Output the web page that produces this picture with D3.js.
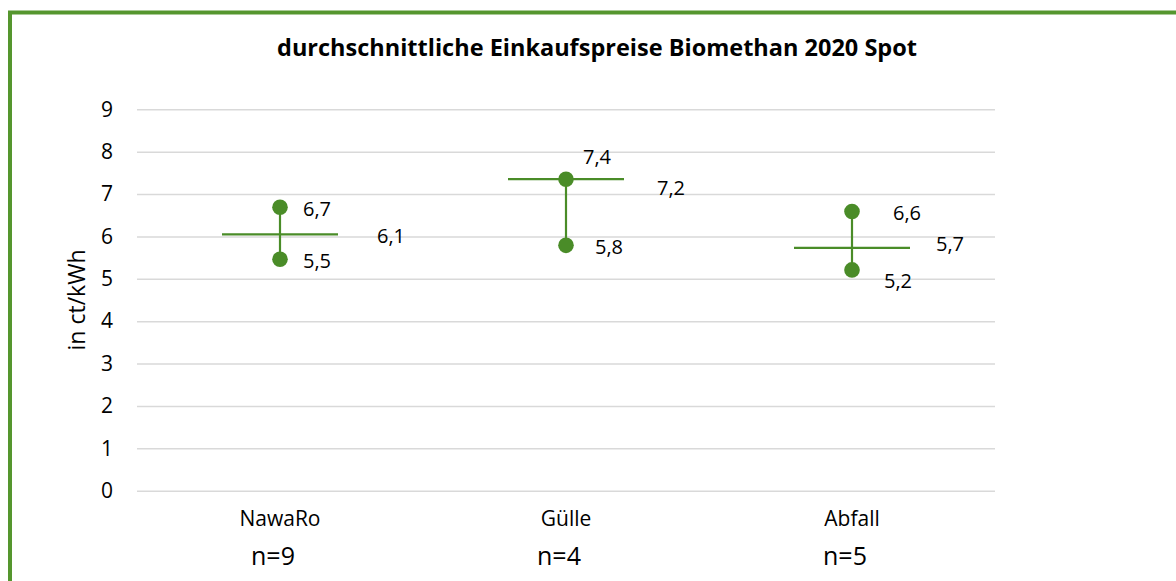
<!DOCTYPE html>
<html>
<head>
<meta charset="utf-8">
<script src="https://cdn.jsdelivr.net/npm/d3@7"></script>
<style>
  html, body { margin: 0; padding: 0; background: #fff; }
  svg { display: block; font-family: "Open Sans", Lato, sans-serif; }
</style>
</head>
<body>
<div id="chart"></div>
<script>
// values
var categories = ['NawaRo', 'Gülle', 'Abfall'];
var sampleSizes = ['n=9', 'n=4', 'n=5'];
var maxValues = [6.69, 7.35, 6.59];
var minValues = [5.46, 5.79, 5.21];
var avgValues = [6.05, 7.35, 5.73];
var maxLabels = ['6,7', '7,4', '6,6'];
var minLabels = ['5,5', '5,8', '5,2'];
var avgLabels = ['6,1', '7,2', '5,7'];
var yTickValues = [0, 1, 2, 3, 4, 5, 6, 7, 8, 9];

// label offsets (px) relative to the category centre, as placed in the original
var maxLabelOffset = [{ dx: 23, dy: 2 }, { dx: 17, dy: -22 }, { dx: 41, dy: 2 }];
var minLabelOffset = [{ dx: 23, dy: 2 }, { dx: 29, dy: 2 }, { dx: 32, dy: 11 }];
var avgLabelOffset = [{ dx: 97, dy: 2 }, { dx: 91, dy: 9 }, { dx: 84, dy: -4 }];

var W = 1176, H = 581;
var margin = { top: 109.3, right: 181, bottom: 90.3, left: 137 };
var width = W - margin.left - margin.right;
var height = H - margin.top - margin.bottom;
var green = '#4a8c28';
var font = '"Open Sans", Lato, sans-serif';

var svg = d3.select('#chart').append('svg')
    .attr('width', W)
    .attr('height', H);

// frame
svg.append('rect')
    .attr('x', 10).attr('y', 12.5)
    .attr('width', W + 20).attr('height', H + 20)
    .attr('fill', 'none')
    .attr('stroke', '#55962e')
    .attr('stroke-width', 4);

svg.append('text')
    .text('durchschnittliche Einkaufspreise Biomethan 2020 Spot')
    .attr('x', 597).attr('y', 48)
    .attr('dy', '0.35em')
    .attr('font-size', '23.5px')
    .attr('font-weight', 'bold')
    .style('text-anchor', 'middle');

var g = svg.append('g')
    .attr('transform', 'translate(' + margin.left + ', ' + margin.top + ')');

var x = d3.scaleBand().domain(categories).range([0, width]);
var y = d3.scaleLinear().domain([0, 9]).range([height, 0]);

var yAxis = g.append('g')
    .attr('class', 'grid')
    .call(d3.axisLeft(y).tickValues(yTickValues).tickSize(-width).tickPadding(24).tickFormat(d3.format('d')));
yAxis.select('.domain').remove();
yAxis.selectAll('line').attr('stroke', '#d9d9d9').attr('stroke-width', 1.5);
yAxis.selectAll('text')
    .attr('font-size', '21px')
    .attr('font-family', font)
    .attr('fill', '#000');

g.append('text')
    .text('in ct/kWh')
    .attr('transform', 'rotate(-90)')
    .attr('x', -(300 - margin.top))
    .attr('y', 77 - margin.left)
    .attr('dy', '0.35em')
    .attr('font-size', '23px')
    .style('text-anchor', 'middle');

var xAxis = g.append('g')
    .attr('transform', 'translate(0, ' + height + ')')
    .call(d3.axisBottom(x).tickSize(0).tickPadding(20));
xAxis.select('.domain').remove();
xAxis.selectAll('text')
    .attr('font-size', '21px')
    .attr('font-family', font)
    .attr('fill', '#000');

g.selectAll('.n-label')
    .data(categories)
    .enter().append('text')
    .attr('class', 'n-label')
    .text(function (d, i) { return sampleSizes[i]; })
    .attr('x', function (d) { return x(d) + x.bandwidth() / 2 - 7; })
    .attr('y', height + 66)
    .attr('dy', '0.35em')
    .attr('font-size', '25px')
    .style('text-anchor', 'middle');

var cx = function (d) { return x(d) + x.bandwidth() / 2; };
var marks = g.selectAll('.mark')
    .data(categories)
    .enter().append('g')
    .attr('class', 'mark');

marks.append('line')
    .attr('x1', cx).attr('x2', cx)
    .attr('y1', function (d, i) { return y(maxValues[i]); })
    .attr('y2', function (d, i) { return y(minValues[i]); })
    .attr('stroke', green)
    .attr('stroke-width', 2.2);

marks.append('line')
    .attr('x1', function (d) { return cx(d) - 58; })
    .attr('x2', function (d) { return cx(d) + 58; })
    .attr('y1', function (d, i) { return y(avgValues[i]); })
    .attr('y2', function (d, i) { return y(avgValues[i]); })
    .attr('stroke', green)
    .attr('stroke-width', 2.2);

[maxValues, minValues].forEach(function (vals) {
    marks.append('circle')
        .attr('cx', cx)
        .attr('cy', function (d, i) { return y(vals[i]); })
        .attr('r', 7.8)
        .attr('fill', green);
});

function addLabels(vals, labels, offs) {
    marks.append('text')
        .text(function (d, i) { return labels[i]; })
        .attr('x', function (d, i) { return cx(d) + offs[i].dx; })
        .attr('y', function (d, i) { return y(vals[i]) + offs[i].dy; })
        .attr('dy', '0.35em')
        .attr('font-size', '20px');
}
addLabels(maxValues, maxLabels, maxLabelOffset);
addLabels(minValues, minLabels, minLabelOffset);
addLabels(avgValues, avgLabels, avgLabelOffset);
</script>
</body>
</html>
